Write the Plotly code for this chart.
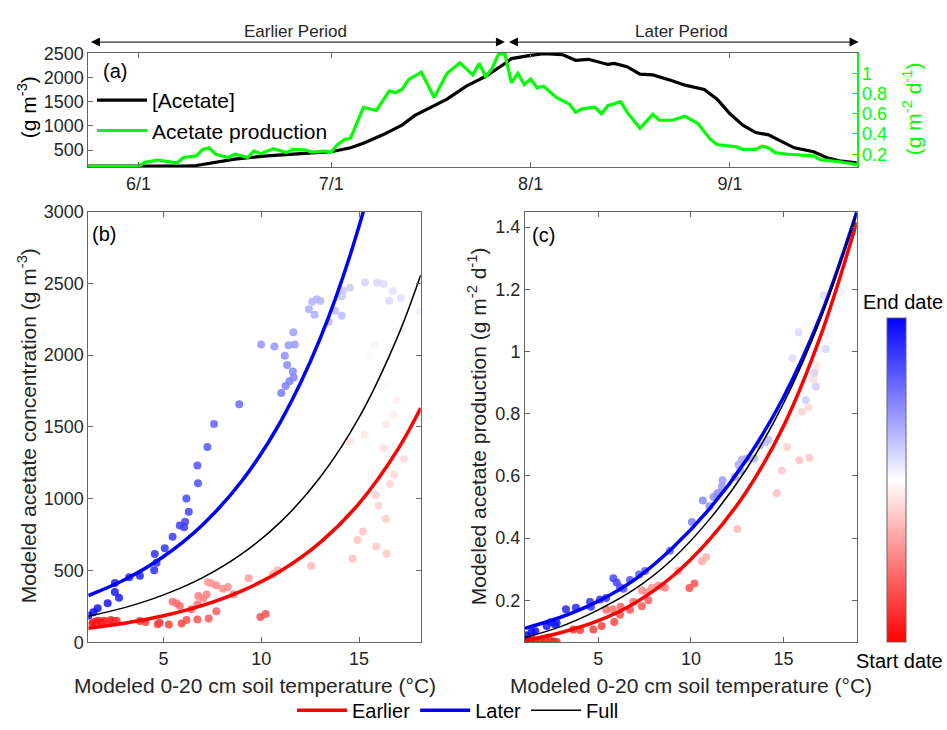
import plotly.graph_objects as go

W, H = 947, 730
FONT = "Liberation Sans, Arial, Helvetica, sans-serif"
GREEN = "#00ff00"

# ---------------- Panel (a): time series ----------------
conc_dates = ["2017-05-24", "2017-06-01", "2017-06-08", "2017-06-10", "2017-06-13", "2017-06-16",
              "2017-06-21", "2017-06-26", "2017-07-01", "2017-07-04", "2017-07-06", "2017-07-09",
              "2017-07-12", "2017-07-14", "2017-07-17", "2017-07-19", "2017-07-22", "2017-07-25",
              "2017-07-28", "2017-07-29", "2017-08-01", "2017-08-03", "2017-08-06", "2017-08-08",
              "2017-08-10", "2017-08-13", "2017-08-14", "2017-08-16", "2017-08-18", "2017-08-20",
              "2017-08-23", "2017-08-25", "2017-08-28", "2017-08-30", "2017-09-01", "2017-09-03",
              "2017-09-05", "2017-09-07", "2017-09-09", "2017-09-11", "2017-09-14", "2017-09-16",
              "2017-09-18", "2017-09-21"]
conc_vals = [165, 160, 165, 180, 250, 312,
             379, 425, 466, 547, 640, 817,
             1019, 1221, 1423, 1557, 1827, 2029,
             2298, 2399, 2466, 2500, 2480, 2365,
             2385, 2278, 2298, 2231, 2076, 2062,
             1940, 1848, 1759, 1557, 1254, 1019,
             864, 817, 682, 547, 466, 345,
             278, 231]

prod_dates = ["2017-05-24", "2017-06-01", "2017-06-02", "2017-06-04", "2017-06-07", "2017-06-08",
              "2017-06-10", "2017-06-11", "2017-06-12", "2017-06-13", "2017-06-15", "2017-06-16",
              "2017-06-18", "2017-06-19", "2017-06-20", "2017-06-22", "2017-06-24", "2017-06-25",
              "2017-06-27", "2017-06-28", "2017-06-30", "2017-07-01", "2017-07-02", "2017-07-03",
              "2017-07-04", "2017-07-06", "2017-07-08", "2017-07-10", "2017-07-11", "2017-07-12",
              "2017-07-13", "2017-07-15", "2017-07-17", "2017-07-19", "2017-07-21", "2017-07-23",
              "2017-07-24", "2017-07-25", "2017-07-26", "2017-07-27", "2017-07-28", "2017-07-29",
              "2017-07-30", "2017-07-31", "2017-08-01", "2017-08-02", "2017-08-03", "2017-08-05",
              "2017-08-07", "2017-08-08", "2017-08-09", "2017-08-11", "2017-08-12", "2017-08-13",
              "2017-08-15", "2017-08-16", "2017-08-18", "2017-08-20", "2017-08-21", "2017-08-23",
              "2017-08-25", "2017-08-27", "2017-08-29", "2017-08-30", "2017-09-02", "2017-09-03",
              "2017-09-05", "2017-09-06", "2017-09-07", "2017-09-08", "2017-09-10", "2017-09-14",
              "2017-09-15", "2017-09-18", "2017-09-21"]
prod_vals = [0.081, 0.081, 0.12, 0.143, 0.114, 0.168,
             0.184, 0.248, 0.264, 0.2, 0.168, 0.2,
             0.168, 0.232, 0.206, 0.254, 0.216, 0.248,
             0.242, 0.222, 0.232, 0.225, 0.296, 0.344,
             0.36, 0.664, 0.632, 0.824, 0.808, 0.84,
             0.936, 1.01, 0.76, 1.0, 1.103, 0.984,
             1.096, 0.968, 1.048, 1.19, 1.19, 0.904,
             1.0, 0.888, 0.942, 0.856, 0.872, 0.76,
             0.696, 0.616, 0.648, 0.664, 0.6, 0.68,
             0.719, 0.616, 0.456, 0.594, 0.536, 0.536,
             0.575, 0.504, 0.344, 0.296, 0.273, 0.248,
             0.248, 0.28, 0.264, 0.216, 0.2, 0.184,
             0.146, 0.126, 0.095]

period_names = ["Earlier Period", "Later Period"]
period_starts = ["2017-05-24", "2017-07-28"]
period_ends = ["2017-07-28", "2017-09-21"]
period_label_dates = ["2017-06-25 12:00", "2017-08-24 12:00"]

month_ticks = ["2017-06-01", "2017-07-01", "2017-08-01", "2017-09-01"]
month_labels = ["6/1", "7/1", "8/1", "9/1"]

# ---------------- Panel (b): concentration vs temperature ----------------
b_temp = [1.35, 1.45, 1.65, 1.8, 1.95, 2.1, 2.3, 2.45, 2.6,
          3.79, 4.08, 4.7, 4.8, 5.27, 5.92, 6.17, 6.73, 7.31, 7.7, 9.95, 10.22,
          5.46, 5.66, 5.83, 6.42, 6.73, 6.78, 7.03, 7.2, 7.27, 7.45, 7.7, 8.04, 8.29, 8.58,
          9.35, 10.59, 10.84, 12.55,
          14.67, 14.91, 15.2, 15.87, 16.41, 16.37, 15.84, 15.99, 16.58, 16.79, 17.3, 16.25,
          14.54, 15.28, 16.37, 16.8, 16.92, 16.35,
          15.48, 15.79, 17.22, 18.1,
          17.14, 16.54, 16.72, 16.26, 15.92, 15.3, 14.54, 14.16, 14.11, 14.11, 13.77, 13.45,
          13.02, 12.85, 12.6, 12.72, 12.43,
          11.64, 11.71, 11.39, 10.67, 9.99, 11.2, 11.32, 11.61, 11.66, 11.44, 11.24, 11.02,
          8.87, 7.58, 7.24, 6.73, 6.76, 6.17, 6.29, 6.1, 5.83, 6.05, 5.46, 5.06, 4.55, 4.64,
          4.52, 3.79, 3.24, 2.51, 2.51, 2.72, 2.14, 1.63, 1.41, 1.15]
b_conc = [130, 140, 150, 135, 150, 140, 155, 145, 150,
          147, 140, 125, 135, 124, 131, 154, 158, 165, 215, 176, 197,
          282, 271, 253, 230, 264, 321, 305, 332, 418, 410, 395, 373, 384, 334,
          445, 474, 501, 531,
          581, 712, 771, 666, 617, 859, 1026, 951, 1103, 1166, 1274, 1353,
          1398, 1446, 1518, 1588, 1683, 1789,
          1999, 2069, 2180, 2304,
          2399, 2379, 2446, 2496, 2507, 2507, 2469, 2451, 2411, 2275, 2309, 2232,
          2377, 2390, 2372, 2282, 2320,
          2160, 2074, 2069, 2060, 2074, 1995, 1931, 1886, 1845, 1818, 1785, 1737,
          1658, 1520, 1360, 1231, 1107, 1001, 908, 840, 813, 800, 734, 655, 615, 553,
          502, 463, 452, 413, 350, 310, 271, 237, 208, 185]
b_date = [0.03, 0.04, 0.05, 0.02, 0.06, 0.07, 0.08, 0.05, 0.09,
          0.10, 0.11, 0.12, 0.12, 0.13, 0.14, 0.15, 0.16, 0.17, 0.18, 0.15, 0.16,
          0.22, 0.22, 0.21, 0.20, 0.23, 0.24, 0.25, 0.25, 0.30, 0.30, 0.27, 0.27, 0.28, 0.26,
          0.31, 0.34, 0.34, 0.36,
          0.37, 0.38, 0.38, 0.39, 0.39, 0.40, 0.41, 0.41, 0.42, 0.42, 0.43, 0.44,
          0.44, 0.45, 0.45, 0.46, 0.47, 0.49,
          0.51, 0.52, 0.53, 0.53,
          0.56, 0.57, 0.56, 0.57, 0.58, 0.59, 0.60, 0.61, 0.61, 0.63, 0.63, 0.64,
          0.64, 0.65, 0.65, 0.66, 0.66,
          0.69, 0.70, 0.70, 0.71, 0.71, 0.72, 0.73, 0.74, 0.74, 0.75, 0.75, 0.76,
          0.79, 0.81, 0.83, 0.84, 0.85, 0.86, 0.87, 0.87, 0.88, 0.88, 0.89, 0.90, 0.91, 0.91,
          0.92, 0.93, 0.93, 0.94, 0.95, 0.95, 0.96, 0.97, 0.98, 1.00]

# fitted curves
b_fit_temp = [1.15, 3, 5, 7, 9, 11, 13, 15, 17, 18.15]
b_fit_earlier = [97, 132, 184, 256, 357, 498, 694, 967, 1347, 1631]
b_fit_later = [325, 435, 597, 819, 1123, 1541, 2113, 2899, 3980, 4700]
b_fit_full = [181, 241, 330, 450, 615, 840, 1147, 1566, 2138, 2558]

# ---------------- Panel (c): production vs temperature ----------------
c_temp = [1.13, 1.4, 1.6, 1.9, 2.1, 2.4, 2.6, 2.75,
          3.65, 4.01, 4.73, 5.18, 5.86, 6.17, 6.71, 7.35, 7.7, 9.92, 10.19,
          6.2, 6.89, 5.42, 5.78,
          7.35, 7.62, 7.89, 8.24, 8.43, 8.6, 9.32, 10.59, 10.82, 12.51, 14.64, 14.91, 15.18,
          15.85, 16.39, 15.99, 16.35, 16.6, 16.7, 16.8, 17.2, 15.32, 15.22,
          16.3, 18.12,
          17.16, 15.81, 15.49, 17.29, 16.75, 16.67, 16.2, 14.19, 14.01, 13.74, 13.42, 13.02,
          12.75, 12.57, 12.66, 12.37, 11.7, 11.67, 11.49, 11.4, 11.22, 11.0, 10.64, 10.05,
          8.87, 7.52, 7.2, 6.71, 6.35, 6.17, 5.99, 5.81, 5.42, 5.09, 4.6, 4.55, 3.79, 3.25,
          2.75, 2.66, 2.43, 2.21, 1.6, 1.4, 1.13]
c_prod = [0.072, 0.075, 0.07, 0.068, 0.072, 0.07, 0.067, 0.066,
          0.106, 0.104, 0.106, 0.117, 0.13, 0.153, 0.169, 0.181, 0.2, 0.239, 0.254,
          0.179, 0.195, 0.169, 0.171,
          0.231, 0.226, 0.24, 0.247, 0.244, 0.24, 0.294, 0.325, 0.338, 0.429, 0.544, 0.617, 0.693,
          0.65, 0.658, 0.806, 0.82, 0.91, 0.935, 0.955, 1.008, 0.886, 0.773,
          1.09, 1.193,
          1.181, 1.062, 0.978, 1.008, 0.887, 0.931, 0.844, 0.716, 0.708, 0.698, 0.656, 0.656,
          0.653, 0.636, 0.617, 0.596, 0.586, 0.565, 0.546, 0.542, 0.532, 0.502, 0.521, 0.452,
          0.359, 0.294, 0.283, 0.265, 0.237, 0.242, 0.257, 0.271, 0.207, 0.202, 0.179, 0.195,
          0.176, 0.171,
          0.127, 0.122, 0.129, 0.117, 0.1, 0.098, 0.0875]
c_date = [0.02, 0.03, 0.04, 0.05, 0.06, 0.07, 0.08, 0.09,
          0.10, 0.11, 0.12, 0.13, 0.14, 0.15, 0.16, 0.17, 0.18, 0.15, 0.16,
          0.20, 0.22, 0.21, 0.22,
          0.28, 0.27, 0.28, 0.27, 0.28, 0.27, 0.31, 0.33, 0.34, 0.36, 0.37, 0.39, 0.40,
          0.38, 0.39, 0.41, 0.42, 0.43, 0.44, 0.45, 0.46, 0.47, 0.48,
          0.51, 0.53,
          0.56, 0.57, 0.57, 0.58, 0.59, 0.58, 0.60, 0.63, 0.63, 0.64, 0.65, 0.66,
          0.66, 0.67, 0.67, 0.68, 0.70, 0.70, 0.71, 0.71, 0.72, 0.72, 0.73, 0.75,
          0.79, 0.82, 0.83, 0.84, 0.85, 0.85, 0.86, 0.86, 0.88, 0.89, 0.90, 0.90, 0.92, 0.93,
          0.94, 0.95, 0.95, 0.96, 0.97, 0.98, 1.00]

c_fit_temp = [1.04, 3, 5, 7, 9, 11, 13, 15, 17, 18.95]
c_fit_earlier = [0.070, 0.096, 0.134, 0.192, 0.277, 0.395, 0.550, 0.760, 1.050, 1.415]
c_fit_later = [0.110, 0.146, 0.197, 0.268, 0.368, 0.494, 0.652, 0.853, 1.115, 1.448]
c_fit_full = [0.080, 0.116, 0.169, 0.237, 0.332, 0.460, 0.622, 0.833, 1.105, 1.445]

fit_names = ["Earlier", "Later", "Full"]
fit_colors = ["#ff0000", "#0000ff", "#000000"]
fit_widths = [3.5, 3.5, 1.5]

bwr = [[0.0, "rgb(255,0,0)"], [0.5, "rgb(255,255,255)"], [1.0, "rgb(0,0,255)"]]


def fx(px):
    return px / W


def fy(py):
    return 1 - py / H


fig = go.Figure()

# panel (a)
fig.add_trace(go.Scatter(x=conc_dates, y=conc_vals, mode="lines", name="[Acetate]",
                         line=dict(color="black", width=3.2), xaxis="x", yaxis="y",
                         legend="legend"))
fig.add_trace(go.Scatter(x=prod_dates, y=prod_vals, mode="lines", name="Acetate production",
                         line=dict(color=GREEN, width=3.2), xaxis="x", yaxis="y2",
                         legend="legend"))

# panel (b)
fig.add_trace(go.Scatter(x=b_temp, y=b_conc, mode="markers", showlegend=False,
                         marker=dict(color=b_date, colorscale=bwr, cmin=0, cmax=1, size=8,
                                     opacity=0.85, line=dict(width=0)),
                         xaxis="x2", yaxis="y3"))
for name, col, wd, ys in zip(fit_names, fit_colors, fit_widths,
                             [b_fit_earlier, b_fit_later, b_fit_full]):
    fig.add_trace(go.Scatter(x=b_fit_temp, y=ys, mode="lines", name=name,
                             line=dict(color=col, width=wd, shape="spline"),
                             xaxis="x2", yaxis="y3", legend="legend2"))

# panel (c)
fig.add_trace(go.Scatter(x=c_temp, y=c_prod, mode="markers", showlegend=False,
                         marker=dict(color=c_date, colorscale=bwr, cmin=0, cmax=1, size=8,
                                     opacity=0.85, line=dict(width=0), showscale=True,
                                     colorbar=dict(x=fx(886.7), xanchor="left", y=fy(650),
                                                   yanchor="bottom", len=(650 - 316.7) / H,
                                                   lenmode="fraction", thickness=19,
                                                   outlinecolor="#666666", outlinewidth=1,
                                                   showticklabels=False, ticks="",
                                                   xpad=0, ypad=0)),
                         xaxis="x3", yaxis="y4"))
for name, col, wd, ys in zip(fit_names, fit_colors, fit_widths,
                             [c_fit_earlier, c_fit_later, c_fit_full]):
    fig.add_trace(go.Scatter(x=c_fit_temp, y=ys, mode="lines", name=name, showlegend=False,
                             line=dict(color=col, width=wd, shape="spline"),
                             xaxis="x3", yaxis="y4"))

axis_common = dict(showline=True, linecolor="#666666", linewidth=1, ticks="inside",
                   ticklen=5, tickcolor="#666666", showgrid=False, zeroline=False,
                   tickfont=dict(family=FONT, size=18, color="#262626"))

fig.update_layout(
    width=W, height=H, margin=dict(l=0, r=0, t=0, b=0),
    paper_bgcolor="white", plot_bgcolor="white",
    font=dict(family=FONT, size=18, color="#262626"),
    xaxis=dict(domain=[fx(88.3), fx(856.7)], anchor="y", type="date",
               range=["2017-05-24 05:00", "2017-09-20 17:00"],
               tickvals=month_ticks, ticktext=month_labels, mirror="ticks", **axis_common),
    yaxis=dict(domain=[fy(161.7), fy(44.3)], anchor="x", range=[143, 2514],
               tickvals=[500, 1000, 1500, 2000, 2500], **axis_common),
    yaxis2=dict(overlaying="y", side="right", anchor="x", range=[0.0714, 1.199],
                tickvals=[0.2, 0.4, 0.6, 0.8, 1.0], ticktext=["0.2", "0.4", "0.6", "0.8", "1"],
                showline=True, linecolor=GREEN, linewidth=1.5, ticks="inside", ticklen=5,
                tickcolor=GREEN, showgrid=False, zeroline=False,
                tickfont=dict(family=FONT, size=18, color=GREEN)),
    xaxis2=dict(domain=[fx(88.3), fx(420.7)], anchor="y3", range=[1.15, 18.15],
                tickvals=[5, 10, 15], mirror="ticks", **axis_common),
    yaxis3=dict(domain=[fy(650), fy(207.3)], anchor="x2", range=[0, 3000],
                tickvals=[0, 500, 1000, 1500, 2000, 2500, 3000], mirror="ticks", **axis_common),
    xaxis3=dict(domain=[fx(525), fx(856.7)], anchor="y4", range=[1.04, 18.95],
                tickvals=[5, 10, 15], mirror="ticks", **axis_common),
    yaxis4=dict(domain=[fy(650), fy(207.3)], anchor="x3", range=[0.065, 1.45],
                tickvals=[0.2, 0.4, 0.6, 0.8, 1.0, 1.2, 1.4],
                ticktext=["0.2", "0.4", "0.6", "0.8", "1", "1.2", "1.4"],
                mirror="ticks", **axis_common),
    legend=dict(x=fx(92), y=fy(72), xanchor="left", yanchor="top", bgcolor="rgba(0,0,0,0)",
                font=dict(family=FONT, size=21, color="#000000"), tracegroupgap=0,
                itemwidth=50),
    legend2=dict(orientation="h", x=fx(458), y=fy(720), xanchor="center", yanchor="middle",
                 bgcolor="rgba(0,0,0,0)", font=dict(family=FONT, size=20, color="#000000"),
                 itemwidth=50),
)

ann = []
# period arrows and labels
for nm, s, e, mid in zip(period_names, period_starts, period_ends, period_label_dates):
    ann.append(dict(xref="x", yref="paper", x=e, y=fy(33), axref="x", ayref="pixel",
                    ax=s, ay=0, showarrow=True, arrowside="end+start", arrowhead=2,
                    startarrowhead=2, arrowsize=1.8, startarrowsize=1.8, arrowwidth=1,
                    arrowcolor="black", text=" ", standoff=0, startstandoff=0))
    ann.append(dict(xref="x", yref="paper", x=mid, y=fy(22), text=nm, showarrow=False,
                    font=dict(family=FONT, size=17, color="#262626"),
                    xanchor="center", yanchor="middle"))

# panel labels
for lab, px, py in [("(a)", 115, 63), ("(b)", 103.5, 230), ("(c)", 543.5, 231)]:
    ann.append(dict(xref="paper", yref="paper", x=fx(px), y=fy(py), text=lab, showarrow=False,
                    font=dict(family=FONT, size=20, color="#000000"),
                    xanchor="center", yanchor="middle"))

# axis titles
titles = [
    ("(g m<sup>-3</sup>)", 27, 100, -90, "#000000"),
    ("(g m<sup>-2</sup> d<sup>-1</sup>)", 912, 102, -90, GREEN),
    ("Modeled acetate concentration (g m<sup>-3</sup>)", 27, 428, -90, "#262626"),
    ("Modeled acetate production (g m<sup>-2</sup> d<sup>-1</sup>)", 477, 428, -90, "#262626"),
    ("Modeled 0-20 cm soil temperature (°C)", 254.5, 695, 0, "#262626"),
    ("Modeled 0-20 cm soil temperature (°C)", 691, 695, 0, "#262626"),
]
for t, px, py, ang, col in titles:
    ann.append(dict(xref="paper", yref="paper", x=fx(px), y=fy(py), text=t, showarrow=False,
                    textangle=ang, font=dict(family=FONT, size=21, color=col),
                    xanchor="center", yanchor="middle"))

# colorbar end labels
for t, py in [("End date", 300), ("Start date", 669)]:
    ann.append(dict(xref="paper", yref="paper", x=fx(944), y=fy(py), text=t, showarrow=False,
                    font=dict(family=FONT, size=20, color="#000000"),
                    xanchor="right", yanchor="middle", borderpad=0))

fig.update_layout(annotations=ann)
fig.write_html("out.html", config={"displayModeBar": False},
               post_script="document.body.style.margin='0';document.body.style.padding='0';")
